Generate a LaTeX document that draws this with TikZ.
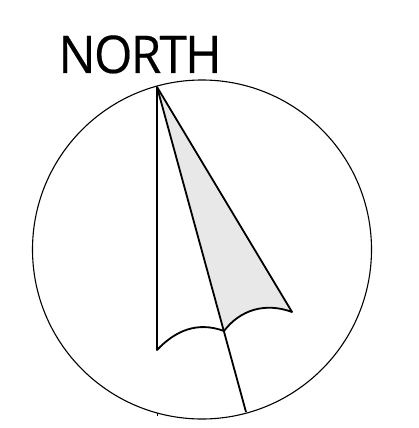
\documentclass[tikz,border=0pt]{standalone}
\usepackage{fontspec}
\setmainfont[LetterSpace=-3.5,FakeBold=0.3]{Open Sans}
\usepackage{tikz}

\begin{document}
\begin{tikzpicture}[
    x=1pt, y=-1pt,
    dial/.style={circle, draw, line width=1.1pt, inner sep=0pt, minimum size=339pt},
    needle/.style={line width=1.8pt, line join=round},
    label/.style={font=\fontsize{52}{52}\selectfont, inner sep=0pt, xscale=0.95},
]
\useasboundingbox (0,0) rectangle (418,428);

%% Dial and heading
\node[dial] (dial) at (202,249.5) {};
\node[label, anchor=base] (north) at (140,73) {NORTH};

%% Needle points
\coordinate (tip) at (157,87);
\coordinate (left) at (157,350);
\coordinate (cusp) at (224,331);
\coordinate (right) at (292,312);
\coordinate (tail) at (246,412);
\coordinate (tickA) at (157,413);
\coordinate (tickB) at (157,416);

%% Shaded half
\fill[black!9] (tip) -- (right) .. controls (265,302) and (240,310) .. (cusp) -- cycle;

%% Needle outline
\draw[needle] (tip) -- (left) .. controls (175,331) and (197,321) .. (cusp)
    .. controls (240,310) and (265,302) .. (right) -- cycle;
\draw[needle] (tip) -- (tail);
\draw[line width=0.8pt] (tickA) -- (tickB);

\end{tikzpicture}
\end{document}
